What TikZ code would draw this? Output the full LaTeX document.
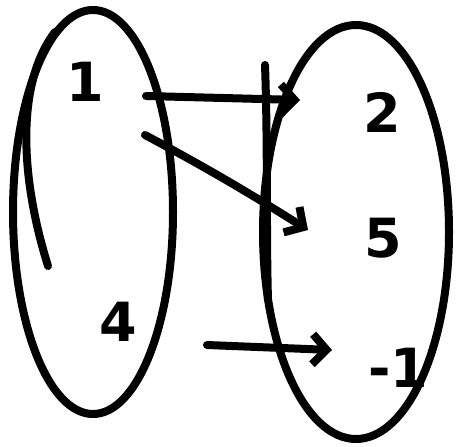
\documentclass[tikz,border=0pt]{standalone}
\usepackage{fontspec}
\setmainfont{DejaVu Sans}
\usetikzlibrary{arrows.meta}
\begin{document}
\begin{tikzpicture}[x=1pt,y=-1pt,
  pen/.style={line width=8pt, line cap=round, line join=round, black},
  num/.style={font=\fontsize{54}{54}\selectfont\bfseries},
  maparrow/.style={pen, -{Straight Barb[length=14pt,width=30pt,line width=8pt]}}]
\useasboundingbox (0,0) rectangle (462,446);
% sets
\draw[pen] (93,212) ellipse [x radius=80, y radius=202];
\draw[pen] (356,232) ellipse [x radius=93, y radius=207];
% extra strokes of the hand drawing
\draw[pen] (55,32) .. controls (18,80) and (18,170) .. (48,266);
\draw[pen] (265,65) .. controls (268,150) and (266,230) .. (268,300);
% labels
\node[num] (n1) at (85,82) {1};
\node[num] (n4) at (118,322) {4};
\node[num] (n2) at (382,112) {2};
\node[num] (n5) at (383,238) {5};
\node[num] (nm1) at (398,368) {-1};
% arrows
\coordinate (a1s) at (146,96);
\coordinate (a1e) at (300,100);
\coordinate (a2s) at (145,135);
\coordinate (a2e) at (308,230);
\coordinate (a3s) at (207,345);
\coordinate (a3e) at (332,350);
\draw[maparrow] (a1s) -- (a1e);
\draw[maparrow] (a2s) .. controls (220,175) and (260,200) .. (a2e);
\draw[maparrow] (a3s) -- (a3e);
\end{tikzpicture}
\end{document}
